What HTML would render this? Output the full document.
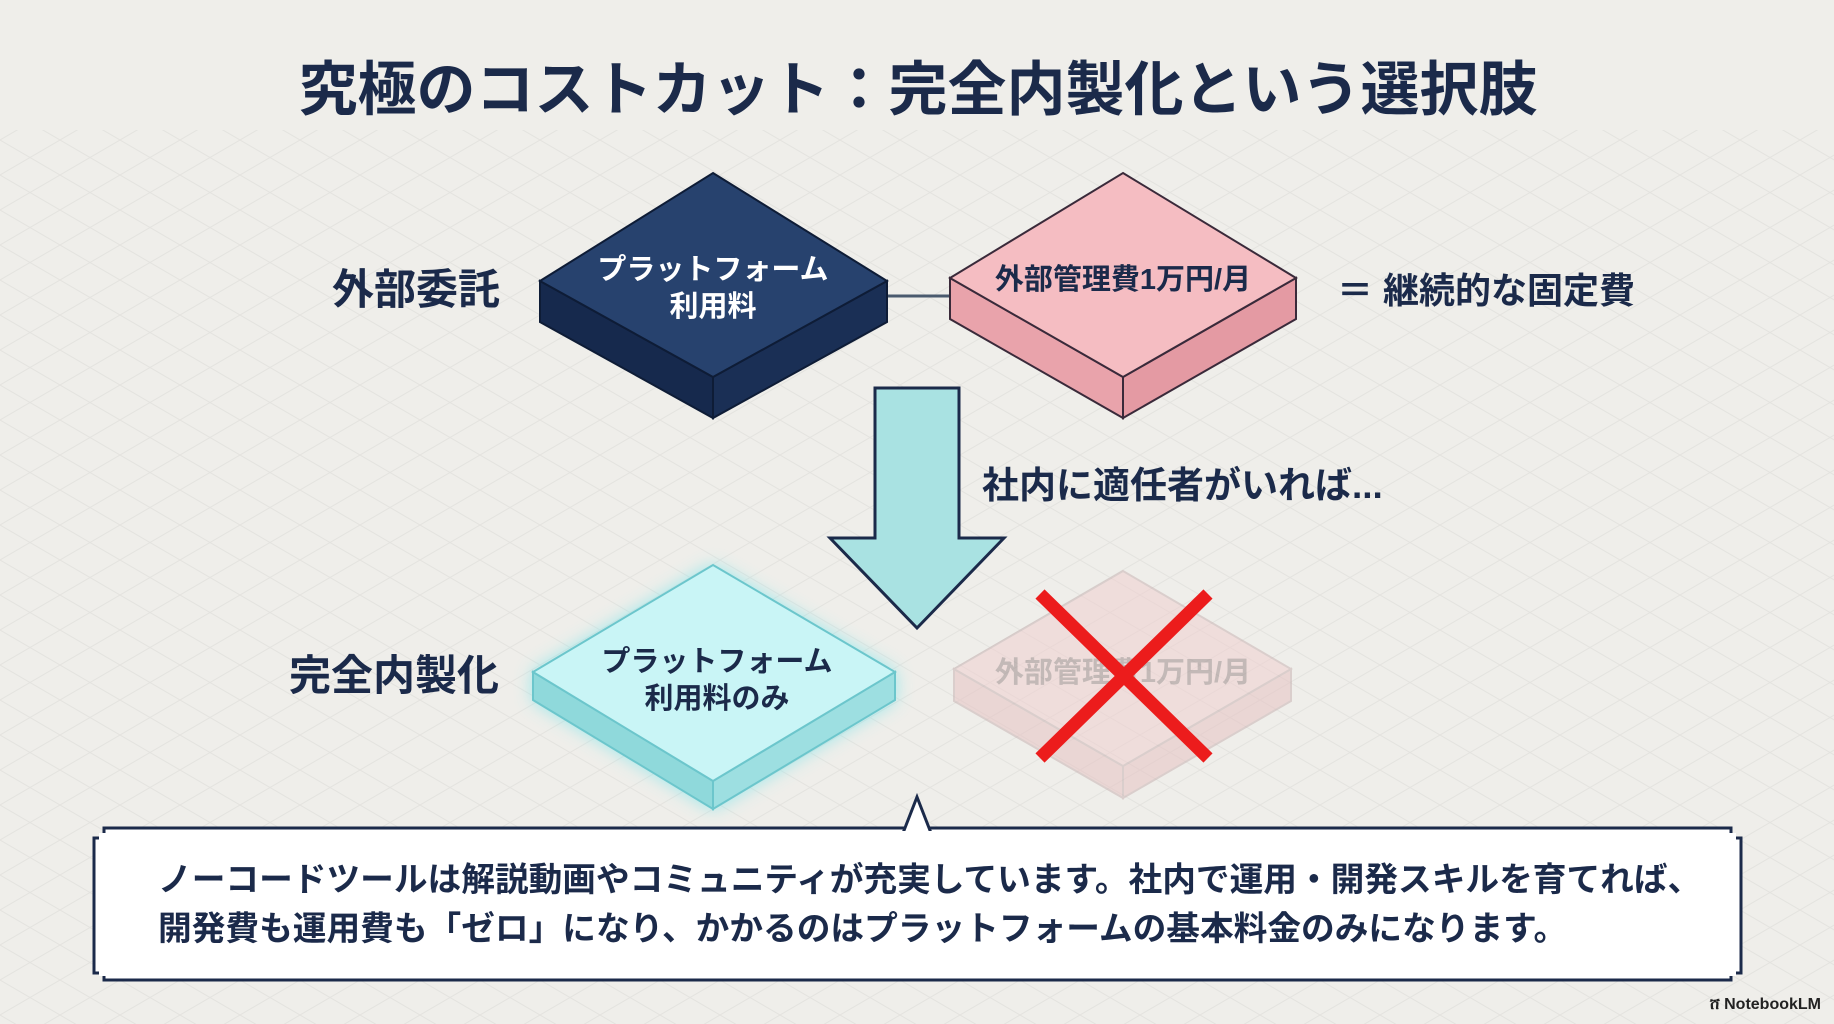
<!DOCTYPE html>
<html><head><meta charset="utf-8"><style>
html,body{margin:0;padding:0;background:#efeeea;}
svg{display:block}
text{font-family:"Liberation Sans","Noto Sans CJK JP",sans-serif;font-weight:bold;}
</style></head><body>
<svg width="1834" height="1024" viewBox="0 0 1834 1024" xmlns="http://www.w3.org/2000/svg">
<defs>
<pattern id="g" width="60" height="35" patternUnits="userSpaceOnUse">
<path d="M0 0 L60 35 M60 0 L0 35" stroke="#dcdcd8" stroke-width="1" fill="none"/>
</pattern>
<filter id="glow" x="-20%" y="-20%" width="140%" height="140%"><feGaussianBlur stdDeviation="9"/></filter>
</defs>
<rect width="1834" height="1024" fill="#efeeea"/>
<rect x="0" y="130" width="1834" height="894" fill="url(#g)" opacity="0.6"/>

<text x="918" y="110" text-anchor="middle" font-size="59" fill="#1b2a4a">究極のコストカット：完全内製化という選択肢</text>

<line x1="887" y1="296" x2="950" y2="296" stroke="#4a5a6e" stroke-width="3"/>

<polygon points="540,281 713,377 713,418 540,322" fill="#16294d" stroke="#0e1c36" stroke-width="2"/>
<polygon points="887,281 713,377 713,418 887,322" fill="#1a2f55" stroke="#0e1c36" stroke-width="2"/>
<polygon points="713,173 887,281 713,377 540,281" fill="#27426e" stroke="#0e1c36" stroke-width="2"/>
<text x="713" y="279" text-anchor="middle" font-size="29" fill="#fff">プラットフォーム</text>
<text x="713" y="316" text-anchor="middle" font-size="29" fill="#fff">利用料</text>

<polygon points="950,278 1123,377 1123,418 950,319" fill="#e9a3ab" stroke="#3a2a3a" stroke-width="2"/>
<polygon points="1296,278 1123,377 1123,418 1296,319" fill="#e49aa3" stroke="#3a2a3a" stroke-width="2"/>
<polygon points="1123,173 1296,278 1123,377 950,278" fill="#f5bdc2" stroke="#3a2a3a" stroke-width="2"/>
<text x="1123" y="289" text-anchor="middle" font-size="29" fill="#1b2a4a">外部管理費1万円/月</text>

<text x="416" y="304" text-anchor="middle" font-size="42" fill="#1b2a4a">外部委託</text>
<text x="1337" y="303" font-size="36" fill="#1b2a4a">＝ 継続的な固定費</text>

<polygon points="875,388 959,388 959,538 1004,538 917,628 830,538 875,538" fill="#a9e2e2" stroke="#1b2a4a" stroke-width="3"/>
<text x="982" y="498" font-size="37" fill="#1b2a4a">社内に適任者がいれば...</text>

<polygon points="713,565 895,672 895,700 713,809 533,700 533,672" fill="#7fe6ec" filter="url(#glow)" opacity="0.8"/>
<polygon points="533,672 713,781 713,809 533,700" fill="#8fd9db" stroke="#6cc6cc" stroke-width="2"/>
<polygon points="895,672 713,781 713,809 895,700" fill="#9ddfe1" stroke="#6cc6cc" stroke-width="2"/>
<polygon points="713,565 895,672 713,781 533,672" fill="#c9f5f6" stroke="#6cc6cc" stroke-width="2"/>
<text x="717" y="671" text-anchor="middle" font-size="29" fill="#1b2a4a">プラットフォーム</text>
<text x="717" y="708" text-anchor="middle" font-size="29" fill="#1b2a4a">利用料のみ</text>
<text x="394" y="690" text-anchor="middle" font-size="42" fill="#1b2a4a">完全内製化</text>

<g opacity="0.55">
<polygon points="954,669 1123,766 1123,798 954,701" fill="#e6c3c3" stroke="#c9b5b5" stroke-width="2"/>
<polygon points="1291,669 1123,766 1123,798 1291,701" fill="#e6c3c3" stroke="#c9b5b5" stroke-width="2"/>
<polygon points="1123,571 1291,669 1123,766 954,669" fill="#f0d0d0" stroke="#c9b5b5" stroke-width="2"/>
<text x="1123" y="682" text-anchor="middle" font-size="29" fill="#a08e8e">外部管理費1万円/月</text>
</g>
<line x1="1040" y1="594" x2="1208" y2="758" stroke="#ec1c1c" stroke-width="13"/>
<line x1="1208" y1="594" x2="1040" y2="758" stroke="#ec1c1c" stroke-width="13"/>

<rect x="104" y="828" width="1627" height="152" fill="#fff" stroke="#1b2a4a" stroke-width="3"/>
<rect x="94" y="838" width="1647" height="135" fill="#fff" stroke="#1b2a4a" stroke-width="3"/>
<rect x="99" y="833" width="1637" height="143" fill="#fff" stroke="none"/>
<polygon points="903,833 917,797 931,833" fill="#fff" stroke="#1b2a4a" stroke-width="3"/>
<rect x="899" y="831" width="36" height="10" fill="#fff"/>
<text x="158" y="891" font-size="33.7" fill="#1b2a4a">ノーコードツールは解説動画やコミュニティが充実しています。社内で運用・開発スキルを育てれば、</text>
<text x="158" y="940" font-size="33.7" fill="#1b2a4a">開発費も運用費も「ゼロ」になり、かかるのはプラットフォームの基本料金のみになります。</text>

<text x="1821" y="1009" text-anchor="end" font-size="16" fill="#222">ሸ NotebookLM</text>
</svg>
</body></html>
